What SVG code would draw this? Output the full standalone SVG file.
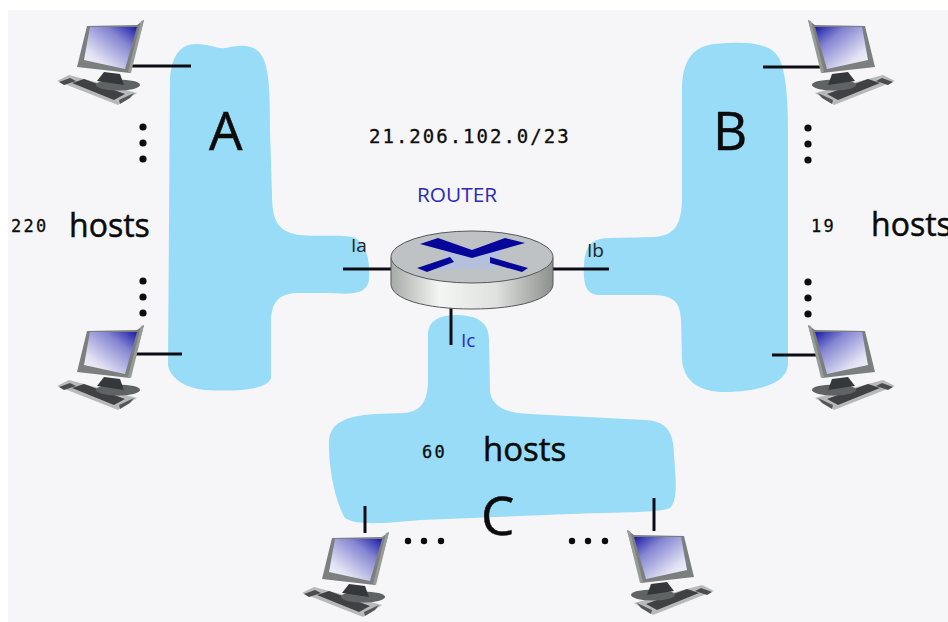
<svg xmlns="http://www.w3.org/2000/svg" width="948" height="622" viewBox="0 0 948 622">
<style>
.blob{fill:#98dcf7}
.wire{stroke:#0c0c14;stroke-width:3;fill:none}
.big{font-family:"Open Sans",sans-serif;fill:#0b0b0b;stroke:#0b0b0b;stroke-width:.5}
.mono{font-family:"DejaVu Sans Mono",monospace;fill:#0b0b0b;stroke:#0b0b0b;stroke-width:.3}
.port{font-family:"Open Sans",sans-serif;font-size:19px}
.dot{fill:#0b0b0b}
</style>
<defs>
<linearGradient id="scr" x1="1" y1="0" x2="0" y2="1"><stop offset="0" stop-color="#1a1aa6"/><stop offset="0.3" stop-color="#8585d2"/><stop offset="0.75" stop-color="#e2e2f4"/><stop offset="1" stop-color="#f6f6fc"/></linearGradient>
<linearGradient id="side" x1="0" y1="0" x2="1" y2="0"><stop offset="0" stop-color="#a8aaa8"/><stop offset="0.3" stop-color="#f4f6f4"/><stop offset="0.65" stop-color="#dfe1df"/><stop offset="1" stop-color="#8e908e"/></linearGradient>
<g id="pc">
<polygon points="57,81 69,75 137,93 118,105" fill="#b8baba"/>
<polygon points="72,83 84,79 125,94 114,100" fill="#3f4143"/>
<polygon points="119,100 134,93 130,98 120,104" fill="#55575a"/>
<polygon points="59,82 70,78 76,81 64,85" fill="#4a4c4e"/>
<ellipse cx="118" cy="85" rx="22" ry="5.5" fill="#5f6364"/>
<polygon points="104,72 120,74 124,85 97,81" fill="#34383a"/>
<polygon points="87,26 137,25 144,20 130,73 77,67" fill="#7b807e"/>
<polygon points="90,27 137,27 125,69 84,60" fill="url(#scr)"/>
<polygon points="141,21 144,20 131,73 128,72" fill="#989c99"/>
</g>
</defs>
<rect x="0" y="0" width="948" height="622" fill="#ffffff"/>
<rect x="8" y="10" width="940" height="612" fill="#f6f6f8"/>
<g id="network-a"><path class="blob" d="M170 78C172 56 180 44 196 44C210 44 216 49 226 48C242 44 256 44 263 58C269 70 270 92 270 130L272 195C272 224 280 232 300 235C325 237 345 234 355 238C368 245 370 264 369 280C367 293 355 295 330 293L300 293C280 293 272 300 271 320L271 378C268 389 240 392 205 390C185 388 170 378 168 365Z"/></g>
<g id="network-b"><path class="blob" d="M682 90C682 62 692 46 715 44C745 41 770 42 779 58C786 72 788 100 788 130L788 365C786 384 760 391 725 392C700 392 684 382 682 360L681 320C680 300 672 295 650 295L600 295C586 295 583 285 584 265C585 245 592 238 610 238L655 237C675 235 681 225 682 200Z"/></g>
<g id="network-c"><path class="blob" d="M428 335C428 320 440 315 458 315C478 316 489 322 489 340L490 392C493 407 505 413 530 414L645 420C665 421 674 430 674 455C676 480 678 500 670 508C660 513 620 512 570 514L420 520C380 524 355 525 345 518C334 500 328 462 329 440C331 423 345 416 375 414L405 413C422 411 428 400 428 380Z"/></g>
<g id="connectors">
<line class="wire" x1="132" y1="66" x2="191" y2="66"/>
<line class="wire" x1="132" y1="354" x2="182" y2="354"/>
<line class="wire" x1="763" y1="67" x2="820" y2="67"/>
<line class="wire" x1="772" y1="355" x2="820" y2="355"/>
<line class="wire" x1="365" y1="506" x2="365" y2="533"/>
<line class="wire" x1="654" y1="498" x2="654" y2="531"/>
<line class="wire" x1="343" y1="269" x2="392" y2="269"/>
<line class="wire" x1="553" y1="269" x2="609" y2="269"/>
<line class="wire" x1="451" y1="308" x2="451" y2="345"/>
</g>
<g id="router">
<path d="M391 258V284C391 299 425 309 472 309C519 309 553 299 553 284V258Z" fill="url(#side)" stroke="#55575a"/>
<ellipse cx="472" cy="257" rx="81" ry="26" fill="#bfc2c4" stroke="#55575a"/>
<polygon points="448,248 504,248 494,268 438,270" fill="#b4c0dc"/>
<polygon points="420,244 438,238 472,250 505,238 525,243 472,258" fill="#06069a"/>
<polygon points="417,268 450,257 454,262 427,272" fill="#06069a"/>
<polygon points="490,257 528,268 522,272 490,263" fill="#06069a"/>
</g>
<g id="host-a1"><use href="#pc"/></g>
<g id="host-a2"><use href="#pc" transform="translate(0,305)"/></g>
<g id="host-b1"><use href="#pc" transform="translate(952,0) scale(-1,1)"/></g>
<g id="host-b2"><use href="#pc" transform="translate(952,305) scale(-1,1)"/></g>
<g id="host-c1"><use href="#pc" transform="translate(245,512)"/></g>
<g id="host-c2"><use href="#pc" transform="translate(771,510) scale(-1,1)"/></g>
<g id="dots">
<circle class="dot" cx="143" cy="127" r="3.6"/><circle class="dot" cx="143" cy="143" r="3.6"/><circle class="dot" cx="143" cy="159" r="3.6"/>
<circle class="dot" cx="143" cy="281" r="3.6"/><circle class="dot" cx="143" cy="297" r="3.6"/><circle class="dot" cx="143" cy="313" r="3.6"/>
<circle class="dot" cx="808" cy="128" r="3.6"/><circle class="dot" cx="808" cy="144" r="3.6"/><circle class="dot" cx="808" cy="160" r="3.6"/>
<circle class="dot" cx="808" cy="282" r="3.6"/><circle class="dot" cx="808" cy="298" r="3.6"/><circle class="dot" cx="808" cy="314" r="3.6"/>
<circle class="dot" cx="408" cy="541" r="3.2"/><circle class="dot" cx="424" cy="541" r="3.2"/><circle class="dot" cx="441" cy="541" r="3.2"/>
<circle class="dot" cx="572" cy="541" r="3.2"/><circle class="dot" cx="588" cy="541" r="3.2"/><circle class="dot" cx="605" cy="541" r="3.2"/>
</g>
<g id="labels">
<text class="big" x="209" y="150" font-size="53">A</text>
<text class="big" x="713" y="150" font-size="53">B</text>
<text class="big" x="481" y="535" font-size="53">C</text>
<text class="big" x="69" y="237" font-size="32">hosts</text>
<text class="big" x="871" y="236" font-size="32">hosts</text>
<text class="big" x="483" y="461" font-size="33">hosts</text>
<text class="mono" x="11" y="232" font-size="17" letter-spacing="2.3">220</text>
<text class="mono" x="811" y="232" font-size="17" letter-spacing="2.3">19</text>
<text class="mono" x="422" y="458" font-size="17" letter-spacing="2.3">60</text>
<text class="mono" x="369" y="143" font-size="19" letter-spacing="2">21.206.102.0/23</text>
<text x="417" y="202" font-family="Open Sans,sans-serif" font-size="20.8" fill="#2a2ab4">ROUTER</text>
<text class="port" x="351" y="252" fill="#222">Ia</text>
<text class="port" x="587" y="257" fill="#222">Ib</text>
<text class="port" x="461" y="347" fill="#2a2ac8">Ic</text>
</g>
</svg>
